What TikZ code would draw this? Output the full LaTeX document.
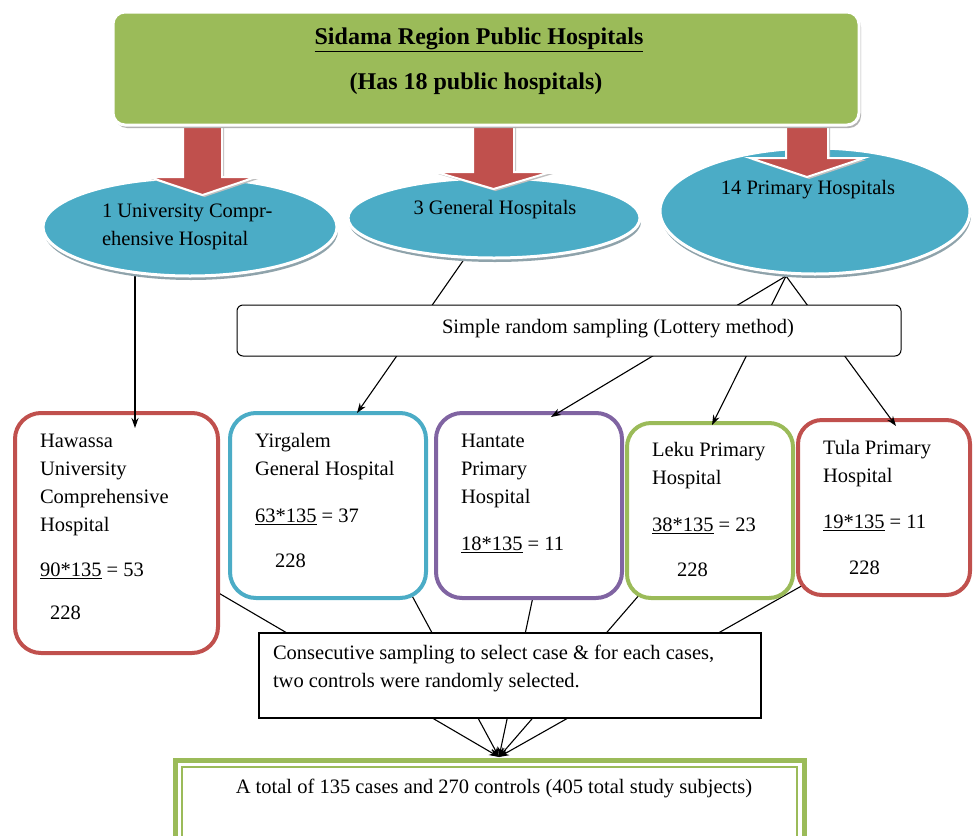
\documentclass[tikz,border=0pt]{standalone}
\usepackage{fontspec}
\setmainfont{Liberation Serif}
\usetikzlibrary{shapes.geometric,arrows.meta,shadows,calc}
\definecolor{cred}{HTML}{C0504D}
\definecolor{cblue}{HTML}{4BACC6}
\definecolor{cpurple}{HTML}{8064A2}
\definecolor{cgreen}{HTML}{9BBB59}
\definecolor{cshadow}{HTML}{8FA3AB}
\begin{document}
\begin{tikzpicture}[x=1pt,y=-1pt,
  every node/.style={font=\fontsize{20.5}{28}\selectfont, inner sep=0pt, outer sep=0pt},
  hbox/.style={draw=#1, line width=4pt, fill=white, rounded corners=26pt, rectangle},
  htext/.style={anchor=west, align=left},
  conn/.style={line width=1.1pt, -{Stealth[length=10pt,width=7pt]}},
  ell/.style={ellipse, fill=cblue, draw=white, line width=3pt,
    drop shadow={shadow xshift=1pt, shadow yshift=-4pt, fill=cshadow, opacity=1}},
  bigarrow/.style={fill=cred, draw=white, line width=2pt,
    drop shadow={shadow xshift=2pt, shadow yshift=-2pt, fill=black!25, opacity=1}},
  plainbox/.style={draw=black, line width=1.1pt, fill=white, rectangle}]
\clip (0,0) rectangle (973,835);
\useasboundingbox (0,0) rectangle (973,835);

% bottom box
\node[draw=cgreen, line width=5pt, fill=white, minimum width=629pt, minimum height=85pt] (bb) at (489.5,802.5) {};
\draw[cgreen, line width=1.2pt] ($(bb.north west)+(7,7)$) rectangle ($(bb.south east)+(-7,-7)$);
\node (bt) at (494,788) {A total of 135 cases and 270 controls (405 total study subjects)};

% convergence lines
\coordinate (conv) at (499,757);
\coordinate (s1) at (116,533);
\coordinate (s2) at (362,503);
\coordinate (s3) at (562,460);
\coordinate (s4) at (717,505);
\coordinate (s5) at (897,532);
\foreach \s in {s1,s2,s3,s4,s5} \draw[conn] (\s) -- (conv);

% hospital boxes
\node[hbox=cred, minimum width=203pt, minimum height=240pt] (h1) at (116.5,533) {};
\node[hbox=cblue, minimum width=196pt, minimum height=185pt] (h2) at (328,505.5) {};
\node[hbox=cpurple, minimum width=186pt, minimum height=185pt] (h3) at (529,505.5) {};
\node[hbox=cgreen, minimum width=166pt, minimum height=175pt, rounded corners=24pt] (h4) at (710,510.5) {};
\node[hbox=cred, minimum width=172pt, minimum height=175pt, rounded corners=24pt] (h5) at (884,507.5) {};

\node[htext] (h1a) at (40,485) {Hawassa\\University\\Comprehensive\\Hospital};
\node[htext] (h1b) at (40,571) {\underline{90*135} = 53};
\node[htext] (h1c) at (50,613) {228};

\node[htext] (h2a) at (255,457) {Yirgalem\\General Hospital};
\node[htext] (h2b) at (255,517) {\underline{63*135} = 37};
\node[htext] (h2c) at (275,561) {228};

\node[htext] (h3a) at (461,471) {Hantate\\Primary\\Hospital};
\node[htext] (h3b) at (461,545) {\underline{18*135} = 11};

\node[htext] (h4a) at (652,466) {Leku Primary\\Hospital};
\node[htext] (h4b) at (652,526) {\underline{38*135} = 23};
\node[htext] (h4c) at (677,570) {228};

\node[htext] (h5a) at (823,464) {Tula Primary\\Hospital};
\node[htext] (h5b) at (823,523) {\underline{19*135} = 11};
\node[htext] (h5c) at (849,568) {228};

% consecutive box
\node[plainbox, minimum width=502pt, minimum height=85pt] (cb) at (510,675.5) {};
\node[htext] (cbt) at (273,668.5) {Consecutive sampling to select case \& for each cases,\\two controls were randomly selected.};

% connectors from ellipses to hospitals
\coordinate (p1) at (135,272);
\coordinate (p2) at (465,258);
\coordinate (p3) at (786,276);
\draw[conn, line width=2.2pt] (p1) -- ($(h1.north west)+(120,15)$);
\draw[conn] (p2) -- ($(h2.north west)+(127,0)$);
\draw[conn] (p3) -- ($(h3.north west)+(115,4)$);
\draw[conn] (p3) -- ($(h4.north west)+(85,2)$);
\draw[conn] (p3) -- ($(h5.north west)+(98,6)$);

% ellipses
\node[ell, minimum width=294pt, minimum height=98pt] (e1) at (190,227) {};
\node[ell, minimum width=292pt, minimum height=80pt] (e2) at (494,218) {};
\node[ell, minimum width=310pt, minimum height=126pt] (e3) at (815,211) {};
\node[htext] (e1t) at (102,226.5) {1 University Compr-\\ehensive Hospital};
\node (e2t) at (495,210) {3 General Hospitals};
\node (e3t) at (808,190) {14 Primary Hospitals};

% big arrows
\path[bigarrow] (183,118) -- (222,118) -- (222,177) -- (256,177) -- (202.5,195) -- (149,177) -- (183,177) -- cycle;
\path[bigarrow] (473,118) -- (514,118) -- (514,172) -- (551,172) -- (493.5,189) -- (436,172) -- (473,172) -- cycle;
\path[bigarrow] (786,118) -- (828,118) -- (828,158) -- (864,158) -- (807,177) -- (750,158) -- (786,158) -- cycle;

% top box
\node[fill=cgreen, draw=white, line width=3pt, rounded corners=12pt, minimum width=746pt, minimum height=113pt,
  drop shadow={shadow xshift=2pt, shadow yshift=-3pt, fill=black!30, opacity=1}] (top) at (486,68.5) {};
\node[font=\fontsize{24}{28}\selectfont\bfseries] (t1) at (479,40) {\underline{Sidama Region Public Hospitals}};
\node[font=\fontsize{24}{28}\selectfont\bfseries] (t2) at (476,84) {(Has 18 public hospitals)};

% simple random sampling box
\node[plainbox, line width=1pt, rounded corners=6pt, minimum width=664pt, minimum height=51pt] (srs) at (569,330.5) {};
\node (srst) at (618,329) {Simple random sampling (Lottery method)};
\end{tikzpicture}
\end{document}
